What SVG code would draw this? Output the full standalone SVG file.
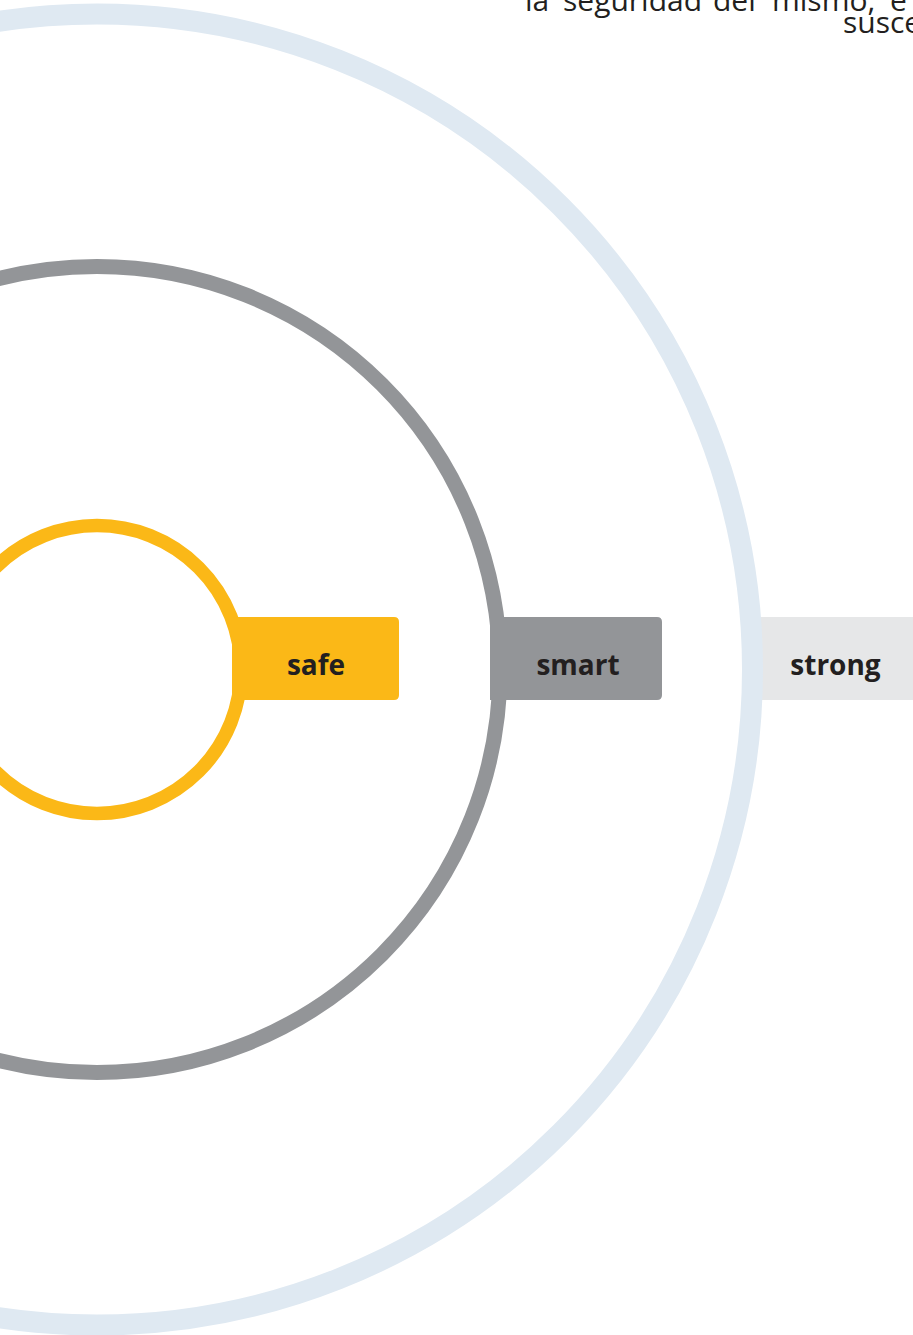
<svg xmlns="http://www.w3.org/2000/svg" width="913" height="1335" viewBox="0 0 913 1335">
  <style>
    .ring { fill: none; }
    .label { font-family: "Open Sans", "Noto Sans", "Liberation Sans", sans-serif; font-weight: 700; font-size: 28px; fill: #231f20; text-anchor: middle; }
    .body { font-family: "Open Sans", "Noto Sans", "Liberation Sans", sans-serif; font-size: 30px; fill: #231f20; }
  </style>
  <rect width="913" height="1335" fill="#ffffff"/>
  <g id="top-text">
    <text class="body" y="11"><tspan x="525">la</tspan><tspan x="563">seguridad</tspan><tspan x="713">del</tspan><tspan x="772">mismo,</tspan><tspan x="890">e</tspan></text>
    <text class="body" x="843" y="33">susce</text>
  </g>
  <g id="strong">
    <rect x="755" y="617" width="180" height="83" fill="#e6e7e8"/>
    <circle class="ring" cx="97" cy="669.5" r="655.5" stroke="#dfe9f2" stroke-width="21"/>
    <text class="label" x="835.5" y="675">strong</text>
  </g>
  <g id="smart">
    <circle class="ring" cx="97" cy="669.5" r="403" stroke="#939598" stroke-width="15"/>
    <path d="M490,617 H657 Q662,617 662,622 V695 Q662,700 657,700 H490 Z" fill="#939598"/>
    <text class="label" x="578" y="675">smart</text>
  </g>
  <g id="safe">
    <circle class="ring" cx="97" cy="669.5" r="144" stroke="#fbb817" stroke-width="13.5"/>
    <path d="M232,617 H394 Q399,617 399,622 V695 Q399,700 394,700 H232 Z" fill="#fbb817"/>
    <text class="label" x="316" y="675">safe</text>
  </g>
</svg>
